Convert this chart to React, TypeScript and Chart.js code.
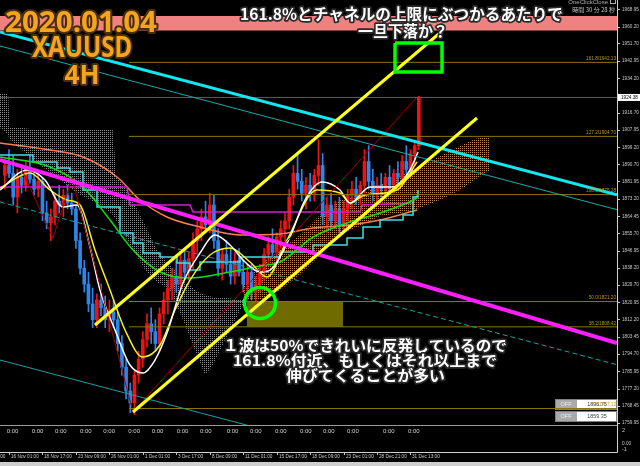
import React, { useEffect, useRef } from "react";
import { Chart, registerables } from "chart.js";

Chart.register(...registerables);

// ---------------- data (bar index = one 8h step, price in USD) ----------------
const candleOpen = [1885,1890,1886,1874,1884,1880,1889,1883,1878,1882,1866,1861,1864,1872,1870,1875,1871,1868,1852,1838,1830,1820,1812,1822,1818,1812,1816,1812,1800,1788,1776,1770,1784,1792,1802,1810,1806,1800,1815,1822,1828,1834,1830,1842,1836,1843,1852,1858,1864,1860,1870,1852,1838,1845,1840,1834,1842,1836,1830,1836,1826,1830,1836,1845,1850,1846,1854,1858,1862,1874,1886,1882,1876,1880,1876,1885,1890,1864,1870,1862,1868,1860,1868,1875,1878,1874,1880,1892,1882,1876,1880,1878,1884,1880,1886,1884,1892,1888,1896,1900];
const candleHigh = [1893,1898,1895,1888,1890,1892,1895,1888,1886,1884,1872,1868,1876,1880,1878,1880,1876,1870,1856,1842,1836,1828,1825,1830,1824,1822,1822,1816,1804,1792,1780,1786,1796,1806,1815,1818,1812,1818,1826,1832,1838,1842,1845,1848,1846,1856,1862,1868,1872,1876,1875,1858,1848,1852,1848,1846,1848,1842,1840,1840,1834,1840,1848,1854,1858,1856,1862,1866,1878,1890,1896,1888,1884,1886,1888,1903,1896,1874,1876,1872,1874,1872,1878,1882,1884,1882,1898,1900,1888,1884,1886,1886,1890,1888,1892,1895,1900,1898,1902,1925];
const candleLow = [1878,1884,1870,1866,1876,1877,1881,1875,1874,1862,1858,1852,1860,1866,1864,1868,1865,1848,1835,1826,1816,1808,1808,1814,1808,1806,1808,1796,1784,1772,1765,1764,1780,1788,1798,1800,1796,1796,1810,1815,1822,1826,1828,1832,1832,1838,1846,1852,1856,1856,1848,1834,1832,1836,1830,1830,1834,1826,1826,1822,1820,1826,1832,1840,1844,1842,1848,1852,1858,1870,1878,1872,1868,1872,1872,1880,1860,1856,1858,1858,1856,1856,1862,1868,1870,1870,1876,1878,1872,1870,1874,1874,1876,1876,1880,1880,1886,1884,1890,1898];
const candleClose = [1890,1886,1874,1884,1880,1889,1883,1878,1882,1866,1861,1864,1872,1870,1875,1871,1868,1852,1838,1830,1820,1812,1822,1818,1812,1816,1812,1800,1788,1776,1770,1784,1792,1802,1810,1806,1800,1815,1822,1828,1834,1830,1842,1836,1843,1852,1858,1864,1860,1870,1852,1838,1845,1840,1834,1842,1836,1830,1836,1826,1830,1836,1845,1850,1846,1854,1858,1862,1874,1886,1882,1876,1880,1876,1885,1890,1864,1870,1862,1868,1860,1868,1875,1878,1874,1880,1892,1882,1876,1880,1878,1884,1880,1886,1884,1892,1888,1896,1900,1924];

const xMin = -1.152;
const xMax = 146.38;
const yMin = 1758.79;
const yMax = 1973.65;

const xTickIndex = [-7, 1, 9, 17, 25, 33, 41, 49, 57, 65, 73, 81, 89, 97];
const xTickLabels = ["11 Nov 09:00", "16 Nov 01:00", "18 Nov 17:00", "23 Nov 09:00", "26 Nov 01:00", "1 Dec 01:00", "3 Dec 17:00", "8 Dec 09:00", "11 Dec 01:00", "15 Dec 17:00", "18 Dec 09:00", "23 Dec 01:00", "28 Dec 21:00", "31 Dec 13:00"];
const priceTicks = [1968.95, 1960.20, 1951.70, 1942.95, 1934.20, 1916.70, 1907.95, 1899.20, 1890.70, 1881.95, 1873.20, 1864.45, 1855.70, 1846.95, 1838.20, 1829.70, 1820.95, 1812.20, 1803.45, 1794.70, 1785.95, 1777.20, 1768.45, 1759.95];
const dayMarkIndex = [0.45, 6.43, 12.0, 17.98, 23.55, 29.53, 35.12, 41.10, 46.67, 53.06, 58.63, 64.61, 70.58, 76.08, 81.83, 90.43, 96.41];

const bidPrice = 1924.38;
const fibLevels = [1942.13, 1904.70, 1875.28, 1821.20, 1808.42, 1767.12];
const fibNames = ["161.8", "127.2", "100.0", "50.0", "38.2", "0.0"];
const fibStart = 29.7;

const whiteX = [-1.15, 5.30, 9.61, 13.91, 17.26, 20.37, 22.76, 26.35, 29.93, 33.04, 35.91, 38.78, 42.61, 46.67, 50.26, 53.85, 57.43, 61.02, 63.41, 68.19, 71.78, 75.85, 80.15, 82.54, 87.32, 92.82, 96.89, 98.80];
const whiteY = [1877.59, 1887.70, 1882.64, 1868.99, 1870.00, 1848.77, 1827.03, 1806.80, 1789.11, 1785.06, 1791.63, 1805.29, 1830.57, 1845.73, 1854.84, 1849.78, 1841.18, 1836.13, 1837.14, 1853.82, 1872.53, 1881.63, 1877.59, 1871.02, 1879.10, 1879.10, 1887.70, 1896.80];
const yellowX = [-1.15, 6.02, 10.80, 14.87, 17.98, 21.56, 25.15, 28.74, 33.04, 37.11, 40.69, 44.28, 49.06, 53.85, 58.63, 62.69, 67.47, 74.65, 80.15, 82.54, 86.13, 93.77, 98.56];
const yellowY = [1878.60, 1886.18, 1877.59, 1872.53, 1870.00, 1847.25, 1827.03, 1806.80, 1793.15, 1799.22, 1816.91, 1832.08, 1844.72, 1848.26, 1841.18, 1833.60, 1852.31, 1877.59, 1876.07, 1871.02, 1875.06, 1877.59, 1891.74];
const greenX = [-1.15, 10.80, 18.69, 25.15, 30.65, 37.11, 44.28, 53.85, 61.02, 65.80, 73.69, 81.82, 89.71, 96.17, 98.56];
const greenY = [1894.27, 1889.21, 1879.10, 1862.42, 1847.25, 1836.15, 1833.12, 1836.14, 1839.16, 1841.18, 1853.82, 1860.90, 1865.96, 1871.02, 1873.54];
const salmonX = [-1.15, 10.80, 18.69, 26.83, 32.32, 38.78, 46.67, 56.24, 65.80, 73.69, 82.54, 89.71, 98.56];
const salmonY = [1901.35, 1897.81, 1894.27, 1884.16, 1872.53, 1863.94, 1858.88, 1854.84, 1855.34, 1858.37, 1859.89, 1862.42, 1867.47];
const kijunX = [-1.15, 6.74, 12.48, 15.59, 18.69, 22.04, 27.54, 30.65, 33.04, 37.11, 41.17, 44.28, 46.67, 56.24, 65.80, 73.69, 81.82, 85.65, 89.71, 95.21, 97.61, 98.80];
const kijunY = [1895.29, 1891.75, 1888.72, 1886.69, 1877.59, 1869.00, 1855.85, 1850.80, 1845.74, 1843.72, 1840.68, 1837.15, 1841.19, 1843.72, 1846.25, 1849.79, 1853.33, 1858.89, 1862.43, 1864.95, 1874.05, 1877.59];
const violetX = [-1.15, 29.22, 29.93, 44.28, 45.00, 84.93, 85.41, 97.61, 98.56];
const violetY = [1879.10, 1879.10, 1870.00, 1870.00, 1866.46, 1866.46, 1870.00, 1871.02, 1875.06];
const zigzagX = [4.11, 11.52, 16.07, 30.65, 98.56];
const zigzagY = [1887.70, 1853.32, 1883.65, 1765.36, 1924.61];

const grayCloudX = [-1.15, 0.76, 1.24, 4.11, 8.41, 13.20, 17.98, 22.76, 25.87, 26.59, 29.93, 33.52, 36.39, 39.50, 42.61, 45.48, 47.87, 49.78, 52.65, 56.96];
const grayCloudTop = [1926.63, 1926.63, 1908.93, 1908.93, 1907.92, 1907.92, 1907.92, 1907.92, 1907.92, 1885.17, 1875.06, 1859.89, 1847.25, 1839.67, 1832.08, 1827.03, 1824.50, 1823.49, 1822.98, 1821.97];
const grayCloudBottom = [1908.93, 1905.39, 1902.87, 1897.81, 1890.23, 1882.64, 1875.06, 1870.00, 1864.95, 1862.42, 1849.78, 1837.14, 1831.07, 1827.03, 1811.86, 1796.69, 1784.05, 1789.11, 1801.75, 1819.44];
const tanCloudX = [56.96, 61.02, 65.80, 70.58, 75.37, 80.15, 84.93, 89.71, 94.50, 99.28, 104.06, 108.84, 112.43, 116.02];
const tanCloudTop = [1829.55, 1839.67, 1847.25, 1854.84, 1864.95, 1872.53, 1875.06, 1880.12, 1884.64, 1889.70, 1894.74, 1899.81, 1903.35, 1904.87];
const tanCloudBottom = [1821.97, 1821.97, 1827.03, 1834.61, 1844.72, 1855.36, 1859.41, 1864.47, 1866.00, 1868.53, 1872.59, 1877.64, 1882.70, 1887.75];

// trend lines: [x0, y0, x1, y1]
const cyanTrend = [-1.152, 1957.47, 146.38, 1875.22];
const tealTrend = [-1.152, 1950.39, 146.38, 1867.63];
const tealDashTrend = [-1.152, 1871.53, 146.38, 1789.27];
const tealLowTrend = [-1.152, 1791.65, 146.38, 1709.35];
const magentaTrend = [-1.152, 1892.76, 146.38, 1800.24];
const yellowLowTrend = [30.65, 1765.36, 112.91, 1913.99];
const yellowHighTrend = [21.56, 1809.34, 104.58, 1957.97];

const pinkBand = [1965.56, 1958.23];
const oliveBox = [57.91, 80.87, 1821.20, 1808.42];
const greenBox = [93.30, 104.54, 1951.91, 1937.25];
const greenCircle = [61.02, 1820.47];

// ---------------- helpers ----------------
type Opt = { font: string; color: string; align?: CanvasTextAlign; baseline?: CanvasTextBaseline; sx?: number; stroke?: string; lw?: number };
function txt(ctx: CanvasRenderingContext2D, s: string, x: number, y: number, o: Opt) {
  ctx.save();
  ctx.font = o.font;
  ctx.textAlign = o.align || "left";
  ctx.textBaseline = o.baseline || "middle";
  ctx.translate(x, y);
  ctx.scale(o.sx || 1, 1);
  if (o.stroke) {
    ctx.strokeStyle = o.stroke;
    ctx.lineWidth = o.lw || 3;
    ctx.lineJoin = "round";
    ctx.strokeText(s, 0, 0);
  }
  ctx.fillStyle = o.color;
  ctx.fillText(s, 0, 0);
  ctx.restore();
}
function fitTxt(ctx: CanvasRenderingContext2D, s: string, cx: number, base: number, w: number, font: string, color: string, stroke: string, lw: number) {
  ctx.save();
  ctx.font = font;
  const m = ctx.measureText(s).width;
  ctx.restore();
  txt(ctx, s, cx, base, { font, color, align: "center", baseline: "alphabetic", sx: w / m, stroke, lw });
}

const AX = '"Liberation Sans", "DejaVu Sans", sans-serif';
const JP = '"Noto Sans CJK JP", "Noto Sans", sans-serif';

const seg = (t: number[], color: string, width: number, order: number, extra: any = {}) => ({
  type: "line",
  data: [{ x: t[0], y: t[1] }, { x: t[2], y: t[3] }],
  borderColor: color,
  borderWidth: width,
  pointRadius: 0,
  fill: false,
  order,
  ...extra,
});
const poly = (xs: number[], ys: number[], color: string, width: number, order: number, extra: any = {}) => ({
  type: "line",
  data: xs.map((x, i) => ({ x, y: ys[i] })),
  borderColor: color,
  borderWidth: width,
  pointRadius: 0,
  fill: false,
  order,
  ...extra,
});

const decor = {
  id: "decor",
  beforeDraw(chart: any) {
    const { ctx, width, height } = chart;
    ctx.save();
    ctx.fillStyle = "#000";
    ctx.fillRect(0, 0, width, height);
    ctx.restore();
  },
  beforeDatasetsDraw(chart: any) {
    const ctx: CanvasRenderingContext2D = chart.ctx;
    const rows = [["1896.75", 399], ["1859.35", 411]] as [string, number][];
    rows.forEach(([v, y]) => {
      ctx.fillStyle = "#a9a9a9";
      ctx.fillRect(555, y, 22, 11);
      ctx.fillStyle = "#ffffff";
      ctx.fillRect(577, y, 40, 11);
      ctx.strokeStyle = "#808080";
      ctx.lineWidth = 1;
      ctx.strokeRect(555.5, y + 0.5, 61, 10);
      txt(ctx, "OFF", 566, y + 5.5, { font: `5.5px ${AX}`, color: "#eeeeee", align: "center" });
      txt(ctx, v, 597, y + 5.5, { font: `6px ${AX}`, color: "#404040", align: "center", sx: 0.9 });
    });
  },
  afterDraw(chart: any) {
    const ctx: CanvasRenderingContext2D = chart.ctx;
    const xs = chart.scales.x;
    const ys = chart.scales.y;
    const axCol = "#c8c8c8";
    ctx.save();
    ctx.strokeStyle = "#9a9a9a";
    ctx.lineWidth = 1;
    ctx.beginPath();
    ctx.moveTo(0, 425.5); ctx.lineTo(617, 425.5);
    ctx.stroke();
    ctx.strokeStyle = "#d0d0d0";
    ctx.beginPath();
    ctx.moveTo(617.5, 0); ctx.lineTo(617.5, 452.5); ctx.lineTo(0, 452.5);
    ctx.stroke();
    priceTicks.forEach((p) => {
      const y = ys.getPixelForValue(p);
      ctx.strokeStyle = axCol;
      ctx.beginPath(); ctx.moveTo(617, Math.round(y) + 0.5); ctx.lineTo(620, Math.round(y) + 0.5); ctx.stroke();
      txt(ctx, p.toFixed(2), 622, y, { font: `5.5px ${AX}`, color: axCol, sx: 0.85 });
    });
    const by = ys.getPixelForValue(bidPrice);
    ctx.fillStyle = "#ffffff";
    ctx.fillRect(618, by - 3.5, 22, 7);
    txt(ctx, bidPrice.toFixed(2), 621, by, { font: `5.5px ${AX}`, color: "#000000", sx: 0.85 });
    fibLevels.forEach((lv, i) => {
      const y = ys.getPixelForValue(lv);
      txt(ctx, `${fibNames[i]}/${lv.toFixed(2)}`, 616, y - 1, { font: `5.5px ${AX}`, color: "#b8981c", align: "right", baseline: "bottom", sx: 0.85 });
    });
    xTickIndex.forEach((ix, i) => {
      const x = Math.round(xs.getPixelForValue(ix)) + 0.5;
      ctx.strokeStyle = axCol;
      ctx.beginPath(); ctx.moveTo(x, 452); ctx.lineTo(x, 455); ctx.stroke();
      txt(ctx, xTickLabels[i], x + 1.5, 456.5, { font: `5.5px ${AX}`, color: axCol, sx: 0.85 });
    });
    dayMarkIndex.forEach((ix) => {
      txt(ctx, "0:00", xs.getPixelForValue(ix), 431, { font: `6px ${AX}`, color: "#d0d0d0" });
    });
    txt(ctx, "2", 622, 430, { font: `5.5px ${AX}`, color: axCol });
    txt(ctx, "0.00", 622, 443, { font: `5.5px ${AX}`, color: axCol, sx: 0.85 });
    txt(ctx, "-1", 622, 449, { font: `5.5px ${AX}`, color: axCol });
    ctx.fillStyle = "#cfcfcf";
    ctx.fillRect(0, 462, 640, 4);
    txt(ctx, "OneClickClose", 608, 2, { font: `6px ${AX}`, color: "#b0b0b0", align: "right" });
    ctx.strokeStyle = "#b0b0b0";
    ctx.strokeRect(610.5, -1.5, 5, 5);
    txt(ctx, "時間 30 分 28 秒", 615, 10, { font: `6px ${JP}`, color: "#c0c0c0", align: "right" });
    const org = "#f4a41e";
    const orgS = "#4a2e05";
    fitTxt(ctx, "2020.01.04", 81, 32, 152, `bold 28px "Noto Sans", ${AX}`, org, orgS, 4);
    fitTxt(ctx, "XAUUSD", 82, 57, 100, `bold 28px "Noto Sans", ${AX}`, org, orgS, 4);
    fitTxt(ctx, "4H", 82, 83.5, 35, `bold 27px "Noto Sans", ${AX}`, org, orgS, 4);
    const w = "#ffffff";
    const ws = "#2a2a2a";
    fitTxt(ctx, "161.8%とチャネルの上限にぶつかるあたりで", 401.5, 20, 323, `bold 15.5px ${JP}`, w, ws, 3.5);
    fitTxt(ctx, "一旦下落か？", 403, 36.5, 90, `bold 15.5px ${JP}`, w, ws, 3.5);
    fitTxt(ctx, "１波は50%できれいに反発しているので", 365, 350.5, 284, `bold 15px ${JP}`, w, ws, 3.5);
    fitTxt(ctx, "161.8%付近、もしくはそれ以上まで", 365, 366, 264, `bold 15px ${JP}`, w, ws, 3.5);
    fitTxt(ctx, "伸びてくることが多い", 365.5, 381, 159, `bold 15px ${JP}`, w, ws, 3.5);
    ctx.restore();
  },
};

export default function App() {
  const ref = useRef<HTMLCanvasElement>(null);
  useEffect(() => {
    const canvas = ref.current!;
    const c2 = canvas.getContext("2d")!;
    const dots = (color: string) => {
      const c = document.createElement("canvas");
      c.width = 2;
      c.height = 2;
      const g = c.getContext("2d")!;
      g.fillStyle = color;
      g.fillRect(0, 0, 1, 1);
      return c2.createPattern(c, "repeat");
    };
    const up = "#ec1414";
    const down = "#2f86ea";
    const colors = candleOpen.map((o, i) => (candleClose[i] >= o ? up : down));
    const fullX = [xMin, xMax];

    const datasets: any[] = [
      poly(fullX, [pinkBand[0], pinkBand[0]], "rgba(0,0,0,0)", 0, 100, { fill: "+1", backgroundColor: "#ef8181" }),
      poly(fullX, [pinkBand[1], pinkBand[1]], "rgba(0,0,0,0)", 0, 100),
      poly(grayCloudX, grayCloudTop, "rgba(0,0,0,0)", 0, 95, { fill: "+1", backgroundColor: dots("#8c8c8c") }),
      poly(grayCloudX, grayCloudBottom, "rgba(0,0,0,0)", 0, 95),
      poly(tanCloudX, tanCloudTop, "rgba(0,0,0,0)", 0, 95, { fill: "+1", backgroundColor: dots("#b8875c") }),
      poly(tanCloudX, tanCloudBottom, "rgba(0,0,0,0)", 0, 95),
      poly([oliveBox[0], oliveBox[1]], [oliveBox[2], oliveBox[2]], "rgba(0,0,0,0)", 0, 90, { fill: "+1", backgroundColor: "rgba(128,122,0,0.88)" }),
      poly([oliveBox[0], oliveBox[1]], [oliveBox[3], oliveBox[3]], "rgba(0,0,0,0)", 0, 90),
      {
        type: "bar",
        data: candleOpen.map((_, i) => ({ x: i, y: [candleLow[i], candleHigh[i]] })),
        backgroundColor: colors,
        barThickness: 1,
        grouped: false,
        order: 61,
      },
      {
        type: "bar",
        data: candleOpen.map((o, i) => ({ x: i, y: [o, candleClose[i]] })),
        backgroundColor: colors,
        barThickness: 3,
        minBarLength: 1,
        grouped: false,
        order: 60,
      },
      poly(salmonX, salmonY, "#ff7b52", 1.5, 45, { cubicInterpolationMode: "monotone" }),
      poly(violetX, violetY, "#d21ed2", 1.5, 44),
      poly(kijunX, kijunY, "#3fe0e6", 1.5, 43, { stepped: true }),
      poly(greenX, greenY, "#12e012", 1.5, 42, { cubicInterpolationMode: "monotone" }),
      poly(yellowX, yellowY, "#f5f020", 1.5, 41, { cubicInterpolationMode: "monotone" }),
      poly(whiteX, whiteY, "#ffffff", 1.5, 40, { cubicInterpolationMode: "monotone" }),
      poly(zigzagX, zigzagY, "#a80000", 1, 38),
      poly(fullX, [bidPrice, bidPrice], "#5c5c5c", 1, 36),
      ...fibLevels.map((lv) => poly([fibStart, xMax], [lv, lv], "#8e7414", 1, 35)),
      seg(tealLowTrend, "#1aa0a0", 1, 22),
      seg(tealDashTrend, "#1aa0a0", 1, 22, { borderDash: [5, 3] }),
      seg(tealTrend, "#1aa8a8", 1, 21),
      seg(magentaTrend, "#ff1eff", 4, 20),
      seg(cyanTrend, "#10e8f0", 3, 19),
      seg(yellowLowTrend, "#ffff1e", 3, 15),
      seg(yellowHighTrend, "#ffff1e", 3, 15),
      poly([greenBox[0], greenBox[1], greenBox[1], greenBox[0], greenBox[0]], [greenBox[2], greenBox[2], greenBox[3], greenBox[3], greenBox[2]], "#00ff00", 3.5, 5),
      {
        type: "line",
        data: [{ x: greenCircle[0], y: greenCircle[1] }],
        showLine: false,
        pointRadius: 15.5,
        pointBorderWidth: 3.5,
        pointBorderColor: "#00ff00",
        pointBackgroundColor: "rgba(0,0,0,0)",
        order: 5,
      },
    ];

    const chart = new Chart(canvas, {
      type: "bar",
      data: { datasets },
      options: {
        responsive: false,
        devicePixelRatio: 1,
        animation: false,
        events: [],
        layout: { autoPadding: false, padding: { left: 0, top: 0, right: 23, bottom: 41 } },
        plugins: { legend: { display: false }, tooltip: { enabled: false }, title: { display: false } },
        scales: {
          x: { type: "linear", min: xMin, max: xMax, display: false, offset: false, grid: { display: false } },
          y: { type: "linear", min: yMin, max: yMax, display: false, grid: { display: false } },
        },
      },
      plugins: [decor],
    } as any);
    return () => chart.destroy();
  }, []);
  return (
    <div style={{ position: "fixed", left: 0, top: 0, width: 640, height: 466, background: "#000" }}>
      <canvas ref={ref} width={640} height={466} style={{ display: "block" }} />
    </div>
  );
}
